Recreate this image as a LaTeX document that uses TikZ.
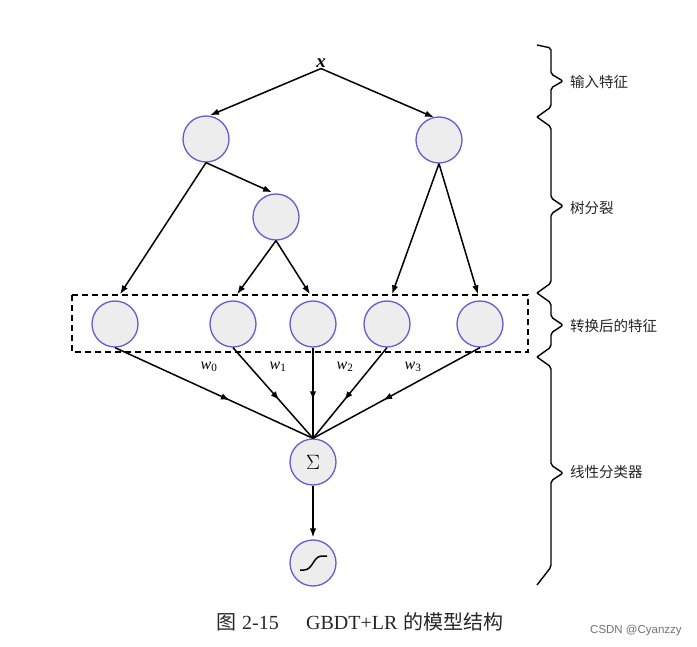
\documentclass[tikz,border=0pt]{standalone}
\usepackage{fontspec}
\setmainfont{Liberation Serif}
\setsansfont{Liberation Sans}
\newfontfamily\cjk{Noto Sans CJK SC}
\usetikzlibrary{arrows.meta,decorations.markings}
\definecolor{ringblue}{RGB}{105,90,210}
\definecolor{cellfill}{RGB}{237,237,237}
\begin{document}
\begin{tikzpicture}[x=1pt,y=-1pt,
  cell/.style={circle,draw=ringblue,fill=cellfill,line width=1.3pt,minimum size=46pt,inner sep=0pt},
  arr/.style={-{Latex[length=9pt,width=6.5pt]},line width=1.5pt},
  midarr/.style={line width=1.5pt,postaction={decorate},
    decoration={markings,mark=at position 0.58 with {\arrow{Latex[length=9pt,width=6.5pt]}}}},
  bracepath/.style={line width=1.4pt,rounded corners=2pt},
  bracelabel/.style={anchor=west,inner sep=0pt,font=\cjk\fontsize{14.5}{16}\selectfont,text=black!85},
  wlabel/.style={inner sep=0pt,font=\fontsize{16}{18}\selectfont},
  caplabel/.style={anchor=base west,inner sep=0pt,font=\fontsize{20}{22}\selectfont,text=black!85}
]
\useasboundingbox (0,0) rectangle (697,647);
\fill[white] (0,0) rectangle (697,647);

% input
\node[inner sep=1pt,font=\fontsize{19}{19}\selectfont] (x) at (321,63) {\textbf{\textit{x}}};

% tree
\node[cell] (l1) at (206,139) {};
\node[cell] (r1) at (439,140) {};
\node[cell] (m)  at (276,217) {};

% transformed features
\node[cell] (n0) at (115,324) {};
\node[cell] (n1) at (233,324) {};
\node[cell] (n2) at (313,324) {};
\node[cell] (n3) at (387,324) {};
\node[cell] (n4) at (480,324) {};
\draw[line width=1.4pt,dash pattern=on 6pt off 4pt] (72,295) rectangle (528,352);

% classifier
\node[cell,font=\fontsize{22}{24}\selectfont] (sg) at (313,462) {$\Sigma$};
\node[cell] (sm) at (313,563) {};
\draw[line width=1.5pt] (300,570) -- (304,570) .. controls (313,570) and (313,556) .. (322,556) -- (327,556);

% arrows from x
\draw[arr] (x.south) -- ([xshift=4pt]l1.north);
\draw[arr] (x.south) -- ([xshift=-5pt,yshift=-1pt]r1.north);
% tree splits
\draw[arr] (l1.south) -- ([xshift=5pt,yshift=6pt]n0.north);
\draw[arr] (l1.south) -- ([xshift=-4pt,yshift=1pt]m.north);
\draw[arr] (m.south) -- ([xshift=4pt,yshift=6pt]n1.north);
\draw[arr] (m.south) -- ([xshift=-3pt,yshift=6pt]n2.north);
\draw[arr] (r1.south) -- ([xshift=5pt,yshift=6pt]n3.north);
\draw[arr] (r1.south) -- ([xshift=-2pt,yshift=6pt]n4.north);

% to classifier
\foreach \n in {n0,n1,n2,n3,n4}{
  \draw[midarr] (\n.south) -- (sg.north);
}
\draw[arr] (sg.south) -- ([yshift=2pt]sm.north);

% weights
\node[wlabel] (w0) at (209,367) {\textit{w}\textsubscript{0}};
\node[wlabel] (w1) at (278,367) {\textit{w}\textsubscript{1}};
\node[wlabel] (w2) at (345,367) {\textit{w}\textsubscript{2}};
\node[wlabel] (w3) at (413,367) {\textit{w}\textsubscript{3}};

% braces
\draw[bracepath] (537,45) -- (551,48) -- (551,74) -- (563,81) -- (551,88) -- (551,107) -- (537,117);
\draw[bracepath] (537,117) -- (551,127) -- (551,198) -- (563,206) -- (551,214) -- (551,283) -- (537,293);
\draw[bracepath] (537,293) -- (551,303) -- (551,317) -- (563,325) -- (551,333) -- (551,347) -- (537,357);
\draw[bracepath] (537,357) -- (551,367) -- (551,465) -- (563,473) -- (551,481) -- (551,567) -- (537,585);

\node[bracelabel] (t1) at (570,82) {输入特征};
\node[bracelabel] (t2) at (570,208) {树分裂};
\node[bracelabel] (t3) at (570,326) {转换后的特征};
\node[bracelabel] (t4) at (570,472) {线性分类器};

% caption
\node[caplabel] (c1) at (216,629) {\cjk 图};
\node[caplabel] (c2) at (242,629) {2-15};
\node[caplabel] (c3) at (306,629) {GBDT+LR};
\node[caplabel] (c4) at (403,629) {\cjk 的模型结构};
\node[inner sep=0pt,anchor=west,font=\sffamily\fontsize{11.5}{12}\selectfont,text=black!55] (wm) at (590,631) {CSDN @Cyanzzy};
\end{tikzpicture}
\end{document}
